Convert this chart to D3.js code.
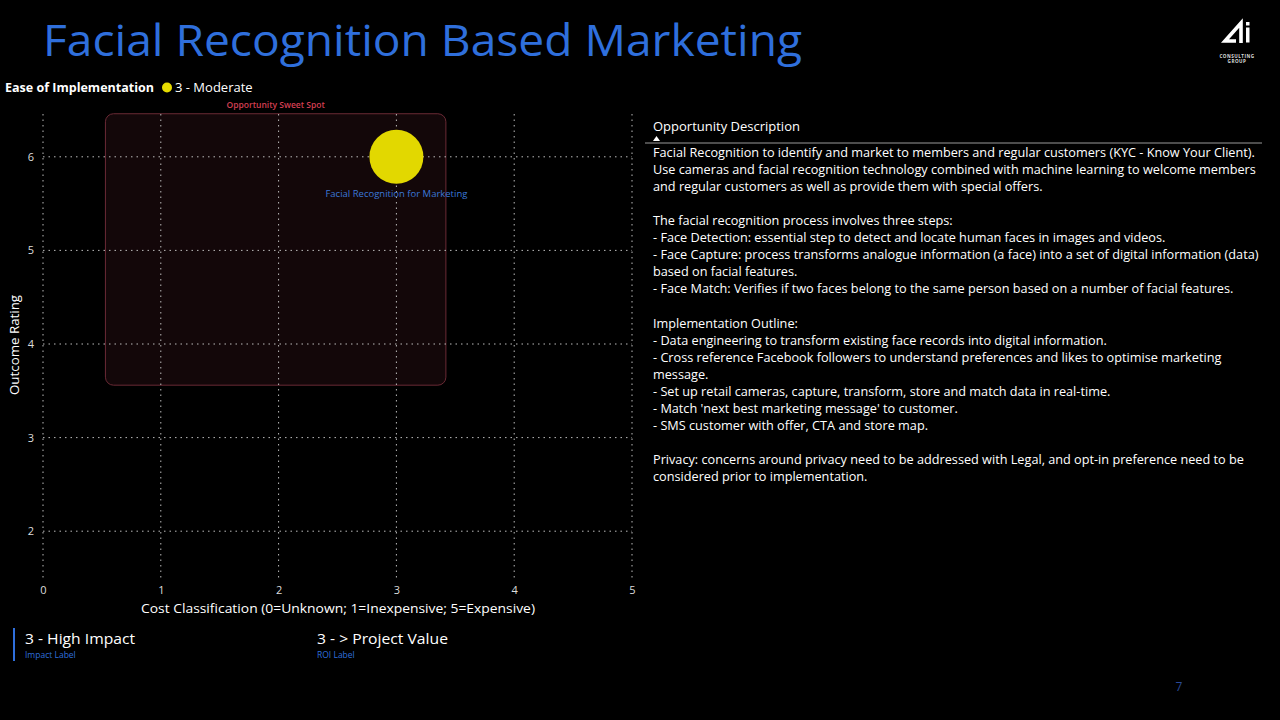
<!DOCTYPE html>
<html><head><meta charset="utf-8">
<script src="https://cdn.jsdelivr.net/npm/d3@7"></script>
<style>
html,body{margin:0;padding:0;background:#000;}
svg{display:block;}
text{font-family:"Open Sans","Noto Sans",sans-serif;}
</style></head>
<body>
<svg id="chart" width="1280" height="720"></svg>
<script>
// ---- data ----
const titleText = "Facial Recognition Based Marketing";
const opportunities = ["Facial Recognition for Marketing"];
const costValues = [3];
const outcomeValues = [6];
const easeValues = ["3 - Moderate"];
const xTicks = [0, 1, 2, 3, 4, 5];
const yTicks = [2, 3, 4, 5, 6];
const sweetSpotX = [0.53, 3.42];
const sweetSpotY = [3.56, 6.46];
const impactLabel = "3 - High Impact";
const roiLabel = "3 - > Project Value";
const descriptionLines = [
 "Facial Recognition to identify and market to members and regular customers (KYC - Know Your Client).",
 "Use cameras and facial recognition technology combined with machine learning to welcome members",
 "and regular customers as well as provide them with special offers.",
 "",
 "The facial recognition process involves three steps:",
 "- Face Detection: essential step to detect and locate human faces in images and videos.",
 "- Face Capture: process transforms analogue information (a face) into a set of digital information (data)",
 "based on facial features.",
 "- Face Match: Verifies if two faces belong to the same person based on a number of facial features.",
 "",
 "Implementation Outline:",
 "- Data engineering to transform existing face records into digital information.",
 "- Cross reference Facebook followers to understand preferences and likes to optimise marketing",
 "message.",
 "- Set up retail cameras, capture, transform, store and match data in real-time.",
 "- Match 'next best marketing message' to customer.",
 "- SMS customer with offer, CTA and store map.",
 "",
 "Privacy: concerns around privacy need to be addressed with Legal, and opt-in preference need to be",
 "considered prior to implementation."
];

const svg = d3.select("#chart");
svg.append("rect").attr("width",1280).attr("height",720).attr("fill","#000");

// title
svg.append("text").attr("x",43).attr("y",56).attr("fill","#2f6fdc")
  .attr("font-size",44).attr("textLength",759).attr("lengthAdjust","spacingAndGlyphs")
  .style("font-family","'Open Sans',sans-serif").text(titleText);

// logo
const logo = svg.append("g");
logo.append("path").attr("d","M1236,41 L1225,41 L1241,23 L1241,43")
  .attr("fill","none").attr("stroke","#fff").attr("stroke-width",3.6).attr("stroke-linejoin","miter");
logo.append("rect").attr("x",1246).attr("y",22).attr("width",3.5).attr("height",3.5).attr("fill","#fff");
logo.append("rect").attr("x",1246).attr("y",27.5).attr("width",3.5).attr("height",15).attr("fill","#fff");
logo.append("text").attr("x",1237).attr("y",57.5).attr("text-anchor","middle").attr("fill","#ddd")
  .attr("font-size",4.6).attr("font-weight","bold").attr("letter-spacing",0.5).text("CONSULTING");
logo.append("text").attr("x",1237).attr("y",62.5).attr("text-anchor","middle").attr("fill","#ddd")
  .attr("font-size",4.6).attr("font-weight","bold").attr("letter-spacing",0.5).text("GROUP");

// legend
svg.append("text").attr("x",5).attr("y",92).attr("fill","#fff").attr("font-size",13).attr("font-weight","bold")
  .attr("textLength",149).attr("lengthAdjust","spacingAndGlyphs").text("Ease of Implementation");
svg.append("circle").attr("cx",167).attr("cy",87.5).attr("r",5).attr("fill","#e6dc00");
svg.append("text").attr("x",175).attr("y",92).attr("fill","#fff").attr("font-size",13).text(easeValues[0]);

// scales
const x = d3.scaleLinear().domain([0,5]).range([43,632]);
const y = d3.scaleLinear().domain([1.5,6.5]).range([578,110]);

// sweet spot
svg.append("rect")
  .attr("x",x(sweetSpotX[0])).attr("y",y(sweetSpotY[1]))
  .attr("width",x(sweetSpotX[1])-x(sweetSpotX[0])).attr("height",y(sweetSpotY[0])-y(sweetSpotY[1]))
  .attr("rx",8).attr("fill","#130709").attr("stroke","#6a2a35").attr("stroke-width",1);
svg.append("text").attr("x",(x(sweetSpotX[0])+x(sweetSpotX[1]))/2).attr("y",108).attr("text-anchor","middle")
  .attr("fill","#d23f52").attr("font-size",8.5).attr("font-weight","600").text("Opportunity Sweet Spot");

// grid
const grid = svg.append("g");
grid.selectAll("line.v").data(xTicks).join("line").attr("class","v")
  .attr("x1",d=>x(d)).attr("x2",d=>x(d)).attr("y1",114).attr("y2",578)
  .attr("stroke","#bbb").attr("stroke-width",1).attr("stroke-dasharray","1.5,4");
grid.selectAll("line.h").data(yTicks).join("line").attr("class","h")
  .attr("x1",43).attr("x2",632).attr("y1",d=>y(d)).attr("y2",d=>y(d))
  .attr("stroke","#bbb").attr("stroke-width",1).attr("stroke-dasharray","1.5,4");

// axes
const xAxis = svg.append("g").attr("transform","translate(0,590)")
  .call(d3.axisBottom(x).tickValues(xTicks).tickSize(0).tickFormat(d3.format("d")));
xAxis.select(".domain").remove();
xAxis.selectAll("text").attr("fill","#ddd").attr("font-size",11).attr("dy","0.32em").attr("y",0);
const yAxis = svg.append("g").attr("transform","translate(34,0)")
  .call(d3.axisLeft(y).tickValues(yTicks).tickSize(0).tickFormat(d3.format("d")));
yAxis.select(".domain").remove();
yAxis.selectAll("text").attr("fill","#ddd").attr("font-size",11).attr("x",0);

svg.append("text").attr("x",338).attr("y",613).attr("text-anchor","middle").attr("fill","#fff")
  .attr("font-size",13).attr("textLength",394).attr("lengthAdjust","spacingAndGlyphs")
  .text("Cost Classification (0=Unknown; 1=Inexpensive; 5=Expensive)");
svg.append("text").attr("transform","translate(19,345) rotate(-90)").attr("text-anchor","middle").attr("fill","#fff")
  .attr("font-size",13).attr("textLength",100).attr("lengthAdjust","spacingAndGlyphs").text("Outcome Rating");

// bubbles
const pts = opportunities.map((n,i)=>({name:n,cx:costValues[i],cy:outcomeValues[i]}));
svg.selectAll("circle.b").data(pts).join("circle").attr("class","b")
  .attr("cx",d=>x(d.cx)).attr("cy",d=>y(d.cy)).attr("r",27).attr("fill","#e2d800");
svg.selectAll("text.bl").data(pts).join("text").attr("class","bl")
  .attr("x",d=>x(d.cx)).attr("y",d=>y(d.cy)+40).attr("text-anchor","middle")
  .attr("fill","#3b78d8").attr("font-size",9.5).text(d=>d.name);

// bottom cards
svg.append("rect").attr("x",13).attr("y",628).attr("width",2).attr("height",33).attr("fill","#2f6fdc");
svg.append("text").attr("x",25).attr("y",644).attr("fill","#fff").attr("font-size",15)
  .attr("textLength",110).attr("lengthAdjust","spacingAndGlyphs").text(impactLabel);
svg.append("text").attr("x",25).attr("y",658).attr("fill","#2f6fdc").attr("font-size",8.5).text("Impact Label");
svg.append("text").attr("x",317).attr("y",644).attr("fill","#fff").attr("font-size",15)
  .attr("textLength",131).attr("lengthAdjust","spacingAndGlyphs").text(roiLabel);
svg.append("text").attr("x",317).attr("y",658).attr("fill","#2f6fdc").attr("font-size",8.5).text("ROI Label");

// description panel
svg.append("text").attr("x",653).attr("y",131).attr("fill","#fff").attr("font-size",13).text("Opportunity Description");
svg.append("path").attr("d","M653,141 L656.5,136 L660,141 Z").attr("fill","#fff");
svg.append("line").attr("x1",645).attr("x2",1262).attr("y1",143).attr("y2",143).attr("stroke","#999").attr("stroke-width",1);
const desc = svg.append("g");
let fs = 13;
desc.selectAll("text").data(descriptionLines).join("text")
  .attr("x",653).attr("y",(d,i)=>157+i*17.06).attr("fill","#fff").attr("font-size",fs).text(d=>d);
const w0 = desc.select("text").node().getComputedTextLength();
if (w0 > 0) { fs = 13*602/w0; desc.selectAll("text").attr("font-size",fs); }

// page number
svg.append("text").attr("x",1179).attr("y",691).attr("text-anchor","middle").attr("fill","#2a4a9a").attr("font-size",12).text("7");
</script>
</body></html>
